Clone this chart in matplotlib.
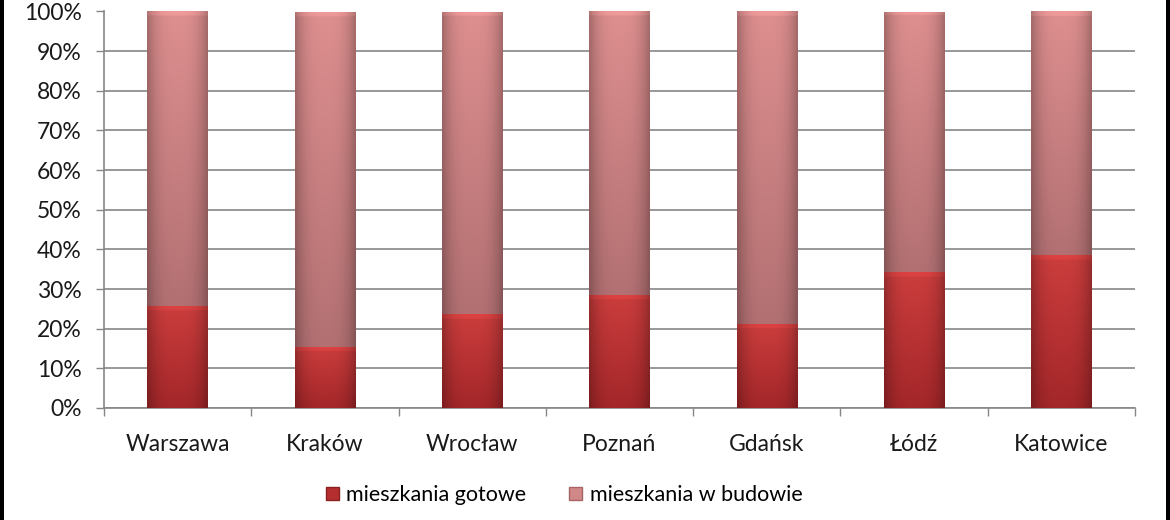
import numpy as np
import matplotlib
matplotlib.use('Agg')
import matplotlib.pyplot as plt
from matplotlib.patches import Rectangle
from matplotlib.ticker import FixedLocator

plt.rcParams['font.family'] = ['Lato', 'DejaVu Sans']

# dane
miasta = ['Warszawa', 'Kraków', 'Wrocław', 'Poznań', 'Gdańsk', 'Łódź', 'Katowice']
gotowe = [25.8, 15.5, 23.7, 28.6, 21.3, 34.2, 38.5]
w_budowie = [100 - g for g in gotowe]
etykiety_y = ['0%', '10%', '20%', '30%', '40%', '50%', '60%', '70%', '80%', '90%', '100%']
serie = ['mieszkania gotowe', 'mieszkania w budowie']


def gradient_fill(ax, patch, top_rgb, bottom_rgb):
    # gradient pionowy + przyciemnienie na brzegach
    x0, y0 = patch.get_x(), patch.get_y()
    w, h = patch.get_width(), patch.get_height()
    ny, nx = 200, 40
    t = np.linspace(0, 1, ny)[:, None]
    top = np.array(top_rgb)
    bot = np.array(bottom_rgb)
    img = bot[None, None, :] * (1 - t[..., None]) + top[None, None, :] * t[..., None]
    img = np.repeat(img, nx, axis=1)
    u = np.linspace(-1, 1, nx)
    shade = 1 - 0.25 * np.abs(u) ** 3
    img = img * shade[None, :, None]
    # delikatna faza na gorze segmentu
    bevel = max(int(ny * 1.3 / h), 2)
    img[-bevel:, :, :] = np.clip(img[-bevel:, :, :] * 1.08, 0, 1)
    im = ax.imshow(np.clip(img, 0, 1), extent=(x0, x0 + w, y0, y0 + h), origin='lower',
                   aspect='auto', interpolation='bilinear', zorder=3)
    im.set_clip_path(patch)
    patch.set_facecolor('none')


fig = plt.figure(figsize=(11.7, 5.2), dpi=100)
ax = fig.add_axes([104 / 1170, 112 / 520, 1031 / 1170, 396.5 / 520])

x = np.arange(len(miasta))
szer = 0.41
b1 = ax.bar(x, gotowe, szer, color='#c0393b', linewidth=0, zorder=3, label=serie[0])
b2 = ax.bar(x, w_budowie, szer, bottom=gotowe, color='#d48484', linewidth=0, zorder=3,
            label=serie[1])

for p in b1:
    gradient_fill(ax, p, (0.80, 0.24, 0.24), (0.64, 0.15, 0.16))
for p in b2:
    gradient_fill(ax, p, (0.87, 0.56, 0.56), (0.70, 0.44, 0.45))

ax.set_xlim(-0.5, len(miasta) - 0.5)
ax.set_ylim(0, 100)
ax.set_yticks(np.arange(0, 101, 10))
ax.set_yticklabels(etykiety_y)
ax.set_xticks(x)
ax.set_xticklabels(miasta)
ax.xaxis.set_minor_locator(FixedLocator(np.arange(-0.5, len(miasta), 1)))
ax.tick_params(axis='x', which='major', length=0, pad=19, labelsize=16.5, colors='#1a1a1a')
ax.tick_params(axis='x', which='minor', length=6, width=1, color='#868686', direction='out')
ax.tick_params(axis='y', length=6, width=1, labelsize=16.5, pad=10, colors='#1a1a1a')
ax.tick_params(axis='y', color='#868686')
ax.grid(axis='y', color='#868686', linewidth=1.2, zorder=0)
ax.set_axisbelow(True)
for s in ['top', 'right']:
    ax.spines[s].set_visible(False)
ax.spines['left'].set_color('#868686')
ax.spines['bottom'].set_color('#868686')
ax.spines['left'].set_linewidth(1.2)
ax.spines['bottom'].set_linewidth(1.2)

h1 = Rectangle((0, 0), 1, 1, facecolor='#b52f31', edgecolor='#8a2022')
h2 = Rectangle((0, 0), 1, 1, facecolor='#d08888', edgecolor='#a86464')
fig.legend([h1, h2], serie, loc='center', bbox_to_anchor=(564 / 1170, 25 / 520), ncol=2,
           frameon=False, fontsize=15.5, handlelength=0.6, handleheight=0.6,
           handletextpad=0.35, columnspacing=2.0)

# czarne ramki po bokach
fig.patches.append(Rectangle((0, 0), 4 / 1170, 1, transform=fig.transFigure,
                             facecolor='black', edgecolor='none'))
fig.patches.append(Rectangle((1 - 4 / 1170, 0), 4 / 1170, 1, transform=fig.transFigure,
                             facecolor='black', edgecolor='none'))

plt.savefig('out.png', dpi=100)
plt.close()
